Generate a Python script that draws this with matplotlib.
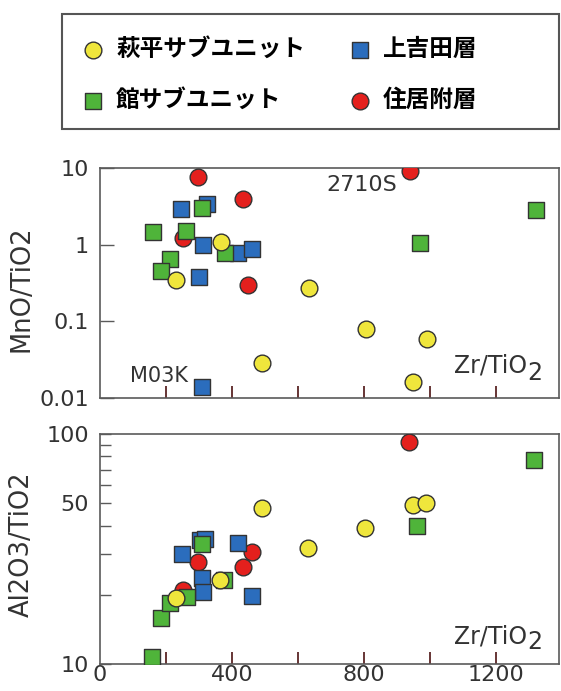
# Zr/TiO2 vs MnO/TiO2 and Al2O3/TiO2 scatter, four stratigraphic groups

import matplotlib
matplotlib.use('Agg')
import matplotlib.pyplot as plt
from matplotlib.patches import Rectangle

plt.rcParams['font.family'] = ['DejaVu Sans']
plt.rcParams['mathtext.default'] = 'regular'

# Group names (legend)
name_hagi = '萩平サブユニット'
name_tate = '館サブユニット'
name_kami = '上吉田層'
name_sumi = '住居附層'

# MnO/TiO2 panel: (Zr/TiO2, MnO/TiO2)
hagi_zr_mn = [230, 366, 490, 634, 805, 990, 947]
hagi_mn = [0.35, 1.09, 0.029, 0.27, 0.080, 0.059, 0.016]
tate_zr_mn = [159, 260, 308, 212, 185, 379, 968, 1321]
tate_mn = [1.47, 1.51, 3.05, 0.66, 0.45, 0.79, 1.04, 2.84]
kami_zr_mn = [245, 323, 311, 419, 461, 300, 310]
kami_mn = [2.9, 3.4, 0.99, 0.79, 0.87, 0.38, 0.0138]
sumi_zr_mn = [296, 434, 252, 449, 939]
sumi_mn = [7.7, 3.9, 1.23, 0.30, 9.2]

# Al2O3/TiO2 panel: (Zr/TiO2, Al2O3/TiO2)
hagi_zr_al = [229, 364, 492, 631, 803, 949, 987]
hagi_al = [19.4, 23.2, 47.5, 31.8, 38.9, 49.1, 50.0]
tate_zr_al = [157, 185, 212, 263, 308, 377, 960, 1315]
tate_al = [10.76, 15.8, 18.5, 19.5, 33.2, 23.2, 39.8, 77.0]
kami_zr_al = [248, 303, 318, 417, 308, 313, 461]
kami_al = [30.0, 34.6, 34.8, 33.5, 23.6, 20.6, 19.8]
sumi_zr_al = [250, 298, 460, 434, 937]
sumi_al = [21.0, 27.9, 30.8, 26.3, 92.7]

# Tick labels
mn_ticks = [0.01, 0.1, 1, 10]
mn_labels = ['0.01', '0.1', '1', '10']
al_ticks = [10, 50, 100]
al_labels = ['10', '50', '100']
al_minor = [20, 30, 40, 60, 70, 80, 90]
zr_ticks = [0, 400, 800, 1200]
zr_labels = ['0', '400', '800', '1200']
zr_minor = [200, 600, 1000]

c_yellow = '#efe63c'
c_green = '#4fb43a'
c_blue = '#2b6dbd'
c_red = '#e4201d'
c_edge = '#333333'
c_spine = '#5a5a5a'
c_xtick = '#5a2525'

W, H = 561, 691
fig = plt.figure(figsize=(W/100, H/100), dpi=100, facecolor='white')

def px_axes(l, t, r, b):
    return fig.add_axes([l/W, 1-b/H, (r-l)/W, (b-t)/H])

ax1 = px_axes(100, 168, 559, 398)
ax2 = px_axes(100, 434, 559, 664)

circ = dict(marker='o', s=145, edgecolors=c_edge, linewidths=1.0, zorder=3)
sq = dict(marker='s', s=125, edgecolors=c_edge, linewidths=1.0, zorder=3)

h_red = ax1.scatter(sumi_zr_mn, sumi_mn, c=c_red, **circ)
h_blue = ax1.scatter(kami_zr_mn, kami_mn, c=c_blue, **sq)
h_green = ax1.scatter(tate_zr_mn, tate_mn, c=c_green, **sq)
h_yel = ax1.scatter(hagi_zr_mn, hagi_mn, c=c_yellow, **circ)

ax2.scatter(sumi_zr_al, sumi_al, c=c_red, **circ)
ax2.scatter(kami_zr_al, kami_al, c=c_blue, **sq)
ax2.scatter(tate_zr_al, tate_al, c=c_green, **sq)
ax2.scatter(hagi_zr_al, hagi_al, c=c_yellow, **circ)

# x-axis label inside each panel: (baseline of "Zr/TiO", baseline of "2")
zr_label_y = {ax1: (0.109, 0.080), ax2: (0.091, 0.064)}

for ax in (ax1, ax2):
    ax.set_yscale('log')
    ax.set_xlim(0, 1390)
    for s in ax.spines.values():
        s.set_color(c_spine)
        s.set_linewidth(1.2)
    ax.set_xticks(zr_ticks)
    ax.set_xticks(zr_minor, minor=True)
    ax.tick_params(axis='x', which='both', direction='in', length=9,
                   width=1.3, color=c_xtick, labelsize=16,
                   labelcolor='#333333', pad=1)
    ax.tick_params(axis='y', which='both', direction='in', width=1.0,
                   color=c_spine, labelsize=16, labelcolor='#333333', pad=8)
    ax.xaxis.get_major_ticks()[0].tick1line.set_visible(False)
    yb, ys = zr_label_y[ax]
    ax.text(0.931, yb, 'Zr/TiO', transform=ax.transAxes, ha='right',
            va='baseline', fontsize=17, color='#333333')
    ax.text(0.931, ys, '2', transform=ax.transAxes, ha='left',
            va='baseline', fontsize=17, color='#333333')

ax1.set_ylim(0.01, 10)
ax1.set_yticks(mn_ticks)
ax1.set_yticklabels(mn_labels)
ax1.yaxis.set_minor_locator(matplotlib.ticker.NullLocator())
ax1.tick_params(axis='y', which='major', length=10)
ax1.set_xticklabels([])
ax1.set_ylabel('MnO/TiO2', fontsize=18.5, color='#333333')
ax1.yaxis.set_label_coords(-0.142, 0.474)

ax2.set_ylim(10, 100)
ax2.set_yticks(al_ticks)
ax2.set_yticklabels(al_labels)
ax2.set_yticks(al_minor, minor=True)
ax2.yaxis.set_minor_formatter(matplotlib.ticker.NullFormatter())
ax2.tick_params(axis='y', which='both', length=8)
ax2.set_xticklabels(zr_labels)
ax2.set_ylabel('Al2O3/TiO2', fontsize=18.5, color='#333333')
ax2.yaxis.set_label_coords(-0.142, 0.52)

# Sample labels
ax1.annotate('2710S', (sumi_zr_mn[4], sumi_mn[4]), xytext=(-9, -10),
             textcoords='offset points', ha='right', va='center',
             fontsize=16, color='#333333')
ax1.annotate('M03K', (kami_zr_mn[6], kami_mn[6]), xytext=(-10, 8),
             textcoords='offset points', ha='right', va='center',
             fontsize=15, color='#333333')

# Legend frame and entries
fig.patches.append(Rectangle((62/W, 1-129/H), (559-62)/W, (129-14)/H,
                             transform=fig.transFigure, fill=False,
                             edgecolor='#555555', linewidth=1.5))
leg = fig.legend([h_yel, h_green, h_blue, h_red],
                 [name_hagi, name_tate, name_kami, name_sumi],
                 ncol=2, loc='upper left', bbox_to_anchor=(82/W, 1-37/H),
                 frameon=False, handlelength=0.9, handletextpad=0.55,
                 columnspacing=1.85, labelspacing=1.15, borderpad=0,
                 borderaxespad=0,
                 prop={'family': ['Noto Sans CJK JP'], 'weight': 'bold',
                       'size': 17})

fig.savefig('out.png', dpi=100)
